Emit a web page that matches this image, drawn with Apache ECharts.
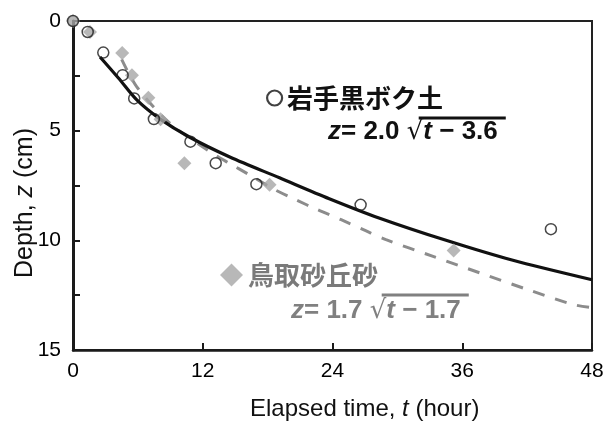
<!DOCTYPE html>
<html>
<head>
<meta charset="utf-8">
<script src="https://cdn.jsdelivr.net/npm/echarts@6/dist/echarts.min.js"></script>
<style>html,body{margin:0;padding:0;background:#fff;}#c{width:613px;height:430px;}</style>
</head>
<body>
<div id="c"></div>
<script>
// Observed points: 岩手黒ボク土 (open circles) [t (hour), z (cm)]
const andosolT = [0, 1.36, 2.8, 4.59, 5.66, 7.48, 10.86, 13.2, 16.96, 26.6, 44.2];
const andosolZ = [0, 0.5, 1.44, 2.47, 3.53, 4.47, 5.5, 6.48, 7.44, 8.38, 9.49];
// Observed points: 鳥取砂丘砂 (gray diamonds)
const duneT = [0, 1.57, 4.55, 5.45, 6.97, 8.1, 10.3, 18.18, 35.2];
const duneZ = [0, 0.5, 1.46, 2.47, 3.5, 4.48, 6.48, 7.47, 10.46];
// Fitted curve (solid black)
const solidT = [2.5, 4.2, 5.9, 8.0, 10.8, 14.5, 19.1, 23.7, 28.3, 34.5, 40.6, 48];
const solidZ = [1.64, 2.6, 3.6, 4.45, 5.3, 6.2, 7.15, 8.1, 8.98, 10.0, 10.9, 11.8];
// Fitted curve (gray dashed)
const dashT = [4.5, 5.9, 8.95, 12.65, 14.5, 16.3, 18.5, 20.6, 22.6, 24.8, 26.8, 28.95, 33.3, 37.6, 41.9, 46.2, 48];
const dashZ = [1.75, 3.0, 4.66, 5.95, 6.5, 7.01, 7.65, 8.15, 8.6, 9.06, 9.5, 9.97, 10.73, 11.48, 12.22, 12.92, 13.07];
// Axes
const xTicks = [0, 12, 24, 36, 48];
const yTickLabels = [0, 5, 10, 15];
const seriesNames = ['岩手黒ボク土', '鳥取砂丘砂'];
// Fit equations shown on the chart: [coefficient, offset]
const eqSolidText = ['2.0', '3.6'];
const eqDashText = ['1.7', '1.7'];

const zip = (a, b) => a.map((v, i) => [v, b[i]]);
const LAT = '"Liberation Sans", Arial, sans-serif';
const CJK = '"Noto Sans CJK JP", sans-serif';
const RAD = '"DejaVu Sans", sans-serif';

const cv = document.createElement('canvas').getContext('2d');
function tw(font, s) { cv.font = font; return cv.measureText(s).width; }

// Build an equation "z= a √t − b" as rich text plus an overline over the radicand
function equation(x0, yc, lineY, coef, off, color, fs) {
  const fi = 'italic bold ' + fs + 'px ' + LAT;
  const fb = 'bold ' + fs + 'px ' + LAT;
  const fr = fs + 'px ' + RAD;
  const p1 = '= ' + coef + ' ';
  const p3 = ' − ' + off;
  const wz = tw(fi, 'z'), w1 = tw(fb, p1), wr = tw(fr, '√'), wt = tw(fi, 't'), w3 = tw(fb, p3);
  const rs = x0 + wz + w1;
  const end = rs + wr + wt + w3;
  return [
    {type: 'text', x: x0, y: yc, style: {
      text: '{i|z}{n|' + p1 + '}{r|√}{i|t}{n|' + p3 + '}', verticalAlign: 'middle', fill: color,
      rich: {
        i: {fontStyle: 'italic', fontWeight: 'bold', fontFamily: LAT, fontSize: fs, fill: color},
        n: {fontWeight: 'bold', fontFamily: LAT, fontSize: fs, fill: color},
        r: {fontFamily: RAD, fontSize: fs, fill: color}}}},
    {type: 'line', shape: {x1: rs + wr * 0.72, y1: lineY, x2: end + 8, y2: lineY},
     style: {stroke: color, lineWidth: 3}}
  ];
}

const chart = echarts.init(document.getElementById('c'), null, {renderer: 'canvas'});
chart.setOption({
  animation: false,
  backgroundColor: '#fff',
  grid: {left: 73, right: 21, top: 21, bottom: 80, show: true, borderColor: '#222', borderWidth: 2},
  xAxis: {
    type: 'value', min: xTicks[0], max: xTicks[xTicks.length - 1], interval: 12,
    axisLine: {show: true, onZero: false, lineStyle: {color: '#1a1a1a', width: 2.5}},
    axisTick: {show: true, inside: true, length: 7, lineStyle: {color: '#1a1a1a', width: 2}},
    axisLabel: {margin: 11, fontFamily: LAT, fontSize: 21, color: '#000'},
    splitLine: {show: false}
  },
  yAxis: {
    type: 'value', inverse: true, min: 0, max: 15, interval: 2.5,
    axisLine: {show: true, onZero: false, lineStyle: {color: '#1a1a1a', width: 3}},
    axisTick: {show: true, inside: true, length: 7, lineStyle: {color: '#1a1a1a', width: 2}},
    axisLabel: {margin: 12, fontFamily: LAT, fontSize: 21, color: '#000',
      formatter: v => yTickLabels.indexOf(v) >= 0 ? String(v) : ''},
    splitLine: {show: false}
  },
  legend: [
    {left: 261, top: 80, itemWidth: 15, itemHeight: 15, selectedMode: false,
     textStyle: {fontFamily: CJK, fontSize: 26, fontWeight: 'bold', color: '#111'},
     data: [{name: seriesNames[0], icon: 'circle', itemStyle: {color: '#fff', borderColor: '#111', borderWidth: 2.2}}]},
    {left: 215, top: 257, itemWidth: 23, itemHeight: 23, selectedMode: false,
     textStyle: {fontFamily: CJK, fontSize: 26, fontWeight: 'bold', color: '#7a7a7a'},
     data: [{name: seriesNames[1], icon: 'diamond', itemStyle: {color: '#a6a6a6'}}]}
  ],
  graphic: [
    {type: 'text', left: 250, top: 397, style: {
      text: 'Elapsed time, {i|t} (hour)', font: '24px ' + LAT, fill: '#111',
      rich: {i: {fontStyle: 'italic', fontFamily: LAT, fontSize: 24, fill: '#111'}}}},
    {type: 'text', x: 13, y: 278, rotation: Math.PI / 2, style: {
      text: 'Depth, {i|z} (cm)', font: '25px ' + LAT, fill: '#111',
      rich: {i: {fontStyle: 'italic', fontFamily: LAT, fontSize: 25, fill: '#111'}}}}
  ].concat(
    equation(328, 132, 118, eqSolidText[0], eqSolidText[1], '#111', 26),
    equation(291, 311, 295, eqDashText[0], eqDashText[1], '#808080', 26)
  ),
  series: [
    {name: 'fitSolid', type: 'line', data: zip(solidT, solidZ), showSymbol: false, smooth: 0.3,
     lineStyle: {color: '#111', width: 3.2}, z: 3, silent: true},
    {name: 'fitDash', type: 'line', data: zip(dashT, dashZ), showSymbol: false, smooth: 0.3,
     lineStyle: {color: '#8c8c8c', width: 3, type: [12, 11]}, z: 2, silent: true},
    {name: seriesNames[1], type: 'scatter', data: zip(duneT, duneZ), symbol: 'diamond', symbolSize: 14,
     itemStyle: {color: '#a6a6a6'}, z: 4},
    {name: seriesNames[0], type: 'scatter', data: zip(andosolT, andosolZ), symbol: 'circle', symbolSize: 11,
     itemStyle: {color: 'rgba(255,255,255,0)', borderColor: '#1a1a1a', borderWidth: 1.5}, z: 5}
  ]
});
</script>
</body>
</html>
